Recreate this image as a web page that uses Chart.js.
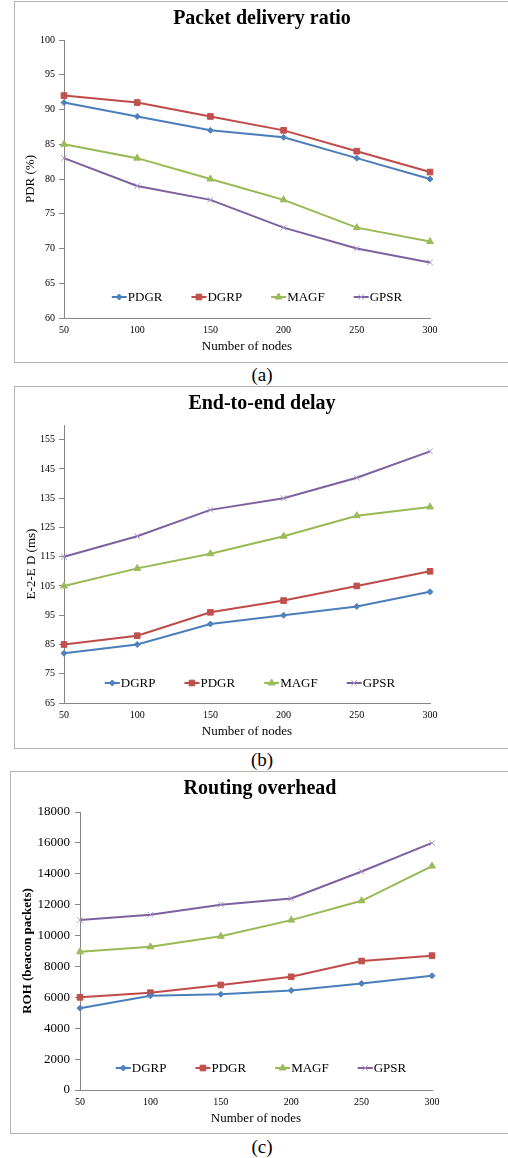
<!DOCTYPE html>
<html>
<head>
<meta charset="utf-8">
<script src="https://cdn.jsdelivr.net/npm/chart.js@4.4.1/dist/chart.umd.min.js"></script>
<style>
  body { margin: 0; background: #fff; width: 508px; height: 1158px; overflow: hidden; position: relative; font-family: "Liberation Serif", serif; }
  .panel { position: absolute; border: 1px solid #b4b4b4; border-right: none; }
  .cap { position: absolute; left: 0; width: 524px; text-align: center; font-size: 19px; line-height: 22px; color: #000; }
</style>
</head>
<body>
<div class="panel" style="left:14px; top:1px; width:494px; height:360px;"><canvas id="pdrChart"></canvas></div>
<div class="cap" style="top:364px;">(a)</div>
<div class="panel" style="left:14px; top:386px; width:494px; height:361px;"><canvas id="delayChart"></canvas></div>
<div class="cap" style="top:749px;">(b)</div>
<div class="panel" style="left:10px; top:771px; width:498px; height:361px;"><canvas id="rohChart"></canvas></div>
<div class="cap" style="top:1136px;">(c)</div>

<script>
const nodes = ['50', '100', '150', '200', '250', '300'];

// (a) packet delivery ratio
const pdrPDGR = [91, 89, 87, 86, 83, 80];
const pdrDGRP = [92, 91, 89, 87, 84, 81];
const pdrMAGF = [85, 83, 80, 77, 73, 71];
const pdrGPSR = [83, 79, 77, 73, 70, 68];

// (b) end-to-end delay
const delayDGRP = [82, 85, 92, 95, 98, 103];
const delayPDGR = [85, 88, 96, 100, 105, 110];
const delayMAGF = [105, 111, 116, 122, 129, 132];
const delayGPSR = [115, 122, 131, 135, 142, 151];
const delayTicks = [65, 75, 85, 95, 105, 115, 125, 135, 145, 155];

// (c) routing overhead
const rohDGRP = [5300, 6100, 6200, 6450, 6900, 7400];
const rohPDGR = [6000, 6300, 6800, 7330, 8350, 8700];
const rohMAGF = [8950, 9270, 9950, 11000, 12250, 14500];
const rohGPSR = [11000, 11350, 12000, 12400, 14150, 16000];

const looks = {
  blue:   { line: '#4a7ebb', fill: '#4f81bd', edge: '#4f81bd', style: 'rectRot', r: 3 },
  red:    { line: '#be4b48', fill: '#c0504d', edge: '#c0504d', style: 'rect', r: 4 },
  green:  { line: '#98b954', fill: '#9bbb59', edge: '#9bbb59', style: 'triangle', r: 4 },
  purple: { line: '#7d60a0', fill: '#b0a2c8', edge: '#a898c4', style: 'crossRot', r: 4 }
};

function series(label, data, look) {
  const l = looks[look];
  return {
    label: label,
    data: data,
    borderColor: l.line,
    backgroundColor: l.fill,
    borderWidth: 2,
    pointStyle: l.style,
    pointRadius: l.r,
    pointBackgroundColor: l.fill,
    pointBorderColor: l.edge,
    pointBorderWidth: 1,
    tension: 0
  };
}

// legend drawn inside the plot, near its bottom, like the Excel original
const insideLegend = {
  id: 'insideLegend',
  afterDatasetsDraw(chart, args, opts) {
    const { ctx, chartArea } = chart;
    const y = chartArea.bottom - opts.lift;
    ctx.save();
    ctx.font = '13px "Liberation Serif"';
    ctx.textBaseline = 'middle';
    const items = chart.data.datasets.map(ds => ({ ds: ds, w: 16 + ctx.measureText(ds.label).width }));
    const total = items.reduce((s, it) => s + it.w, 0) + opts.gap * (items.length - 1);
    let x = (chartArea.left + chartArea.right) / 2 - total / 2 + opts.shift;
    items.forEach(it => {
      const ds = it.ds;
      ctx.strokeStyle = ds.borderColor;
      ctx.lineWidth = 2;
      ctx.beginPath();
      ctx.moveTo(x, y);
      ctx.lineTo(x + 15, y);
      ctx.stroke();
      ctx.fillStyle = ds.pointBackgroundColor;
      ctx.strokeStyle = ds.pointBorderColor;
      ctx.lineWidth = 1;
      Chart.helpers.drawPoint(ctx, { pointStyle: ds.pointStyle, radius: ds.pointRadius, borderWidth: 1, rotation: 0 }, x + 7.5, y);
      ctx.fillStyle = '#000';
      ctx.fillText(ds.label, x + 16, y + 1);
      x += it.w + opts.gap;
    });
    ctx.restore();
  }
};

const axisGray = '#868686';

function buildChart(id, p) {
  const config = {
    type: 'line',
    data: { labels: nodes, datasets: p.datasets },
    plugins: [insideLegend],
    options: {
      responsive: true,
      maintainAspectRatio: false,
      animation: false,
      layout: { padding: 0 },
      plugins: {
        legend: { display: false },
        tooltip: { enabled: false },
        title: {
          display: true,
          text: p.title,
          color: '#000',
          font: { family: '"Liberation Serif"', size: 20, weight: 'bold', lineHeight: 1.2 },
          padding: { top: 5, bottom: p.titleGap }
        },
        insideLegend: { lift: p.legendLift, gap: 29, shift: p.legendShift }
      },
      scales: {
        x: {
          type: 'category',
          offset: false,
          grid: { display: true, drawOnChartArea: false, drawTicks: false, color: axisGray },
          border: { color: axisGray, width: 1 },
          ticks: { color: '#000', padding: 6, maxRotation: 0, font: { family: '"Liberation Serif"', size: 10 } },
          title: {
            display: true,
            text: 'Number of nodes',
            color: '#000',
            font: { family: '"Liberation Serif"', size: 13 },
            padding: { top: 0, bottom: p.xTitlePad }
          },
          afterFit(scale) { scale.height = p.xHeight; }
        },
        y: {
          min: p.yMin,
          max: p.yMax,
          ticks: {
            stepSize: p.yStep,
            color: '#000',
            padding: p.yTickPad,
            font: { family: '"Liberation Serif"', size: p.yTickSize },
            callback: (v) => String(v)
          },
          afterBuildTicks: p.yTicks ? (axis) => { axis.ticks = p.yTicks.map(v => ({ value: v })); } : undefined,
          grid: { display: true, drawOnChartArea: false, drawTicks: true, tickLength: 5, color: axisGray },
          border: { color: axisGray, width: 1 },
          title: {
            display: true,
            text: p.yTitle,
            color: '#000',
            font: { family: '"Liberation Serif"', size: 13, weight: p.yTitleBold ? 'bold' : 'normal' },
            padding: { top: p.yTitlePad, bottom: 0 }
          },
          afterFit(scale) { scale.width = p.yWidth; }
        },
        // empty right-hand strip so the plot stops short of the panel edge
        spare: {
          type: 'linear',
          position: 'right',
          display: true,
          ticks: { display: false },
          grid: { display: false },
          border: { display: false },
          afterFit(scale) { scale.width = p.right; }
        }
      }
    }
  };
  const ctx = document.getElementById(id).getContext('2d');
  return new Chart(ctx, config);
}

buildChart('pdrChart', {
  title: 'Packet delivery ratio',
  titleGap: 9,
  datasets: [
    series('PDGR', pdrPDGR, 'blue'),
    series('DGRP', pdrDGRP, 'red'),
    series('MAGF', pdrMAGF, 'green'),
    series('GPSR', pdrGPSR, 'purple')
  ],
  right: 79, yWidth: 49, xHeight: 44, xTitlePad: 8,
  yMin: 60, yMax: 100, yStep: 5, yTickSize: 10, yTickPad: 4,
  yTitle: 'PDR (%)', yTitlePad: 8, yTitleBold: false,
  legendLift: 21, legendShift: 10
});

buildChart('delayChart', {
  title: 'End-to-end delay',
  titleGap: 9,
  datasets: [
    series('DGRP', delayDGRP, 'blue'),
    series('PDGR', delayPDGR, 'red'),
    series('MAGF', delayMAGF, 'green'),
    series('GPSR', delayGPSR, 'purple')
  ],
  right: 79, yWidth: 49, xHeight: 45, xTitlePad: 9,
  yMin: 65, yMax: 160, yStep: 10, yTicks: delayTicks, yTickSize: 10, yTickPad: 4,
  yTitle: 'E-2-E D (ms)', yTitlePad: 9, yTitleBold: false,
  legendLift: 20, legendShift: 3
});

buildChart('rohChart', {
  title: 'Routing overhead',
  titleGap: 11,
  datasets: [
    series('DGRP', rohDGRP, 'blue'),
    series('PDGR', rohPDGR, 'red'),
    series('MAGF', rohMAGF, 'green'),
    series('GPSR', rohGPSR, 'purple')
  ],
  right: 77, yWidth: 69, xHeight: 43, xTitlePad: 7,
  yMin: 0, yMax: 18000, yStep: 2000, yTickSize: 13, yTickPad: 5,
  yTitle: 'ROH (beacon packets)', yTitlePad: 9, yTitleBold: true,
  legendLift: 22, legendShift: 5
});
</script>
</body>
</html>
